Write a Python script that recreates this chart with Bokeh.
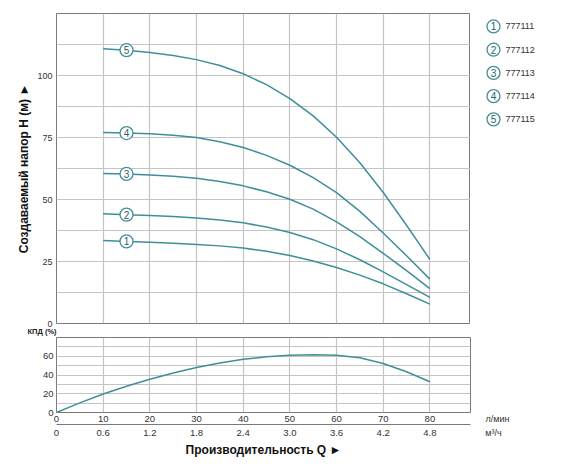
from bokeh.plotting import figure
from bokeh.layouts import column, row
from bokeh.models import Range1d, FixedTicker, LinearAxis, Title
from bokeh.embed import file_html
from bokeh.resources import INLINE
from bokeh.core.properties import value

# ---- data ----
models = ["777111", "777112", "777113", "777114", "777115"]
curve_numbers = ["1", "2", "3", "4", "5"]
flow_lpm = [10, 15, 20, 25, 30, 35, 40, 45, 50, 55, 60, 65, 70, 75, 80]
head_777111 = [33.5, 33.1, 32.8, 32.4, 31.9, 31.3, 30.4, 29.1, 27.4, 25.2, 22.6, 19.5, 16.0, 12.0, 7.8]
head_777112 = [44.3, 43.9, 43.5, 43.1, 42.5, 41.7, 40.6, 38.9, 36.7, 33.8, 30.1, 25.7, 20.8, 15.7, 10.5]
head_777113 = [60.5, 60.3, 59.9, 59.4, 58.6, 57.3, 55.5, 53.1, 50.1, 46.1, 41.0, 35.0, 28.3, 21.3, 14.1]
head_777114 = [77.0, 76.8, 76.5, 75.9, 75.0, 73.3, 71.0, 67.8, 63.8, 58.8, 52.8, 45.2, 36.5, 27.3, 17.9]
head_777115 = [110.8, 110.2, 109.3, 108.1, 106.4, 104.0, 100.7, 96.3, 90.7, 83.7, 75.1, 64.8, 52.8, 39.6, 25.8]
heads = [head_777111, head_777112, head_777113, head_777114, head_777115]
marker_flow = 15

eff_flow = [0, 5, 10, 15, 20, 25, 30, 35, 40, 45, 50, 55, 60, 65, 70, 75, 80]
efficiency = [0, 10.3, 19.8, 28.0, 35.4, 42.1, 48.0, 52.9, 56.7, 59.4, 61.0, 61.7, 61.1, 58.3, 52.3, 43.5, 32.8]

lpm_ticks = [0, 10, 20, 30, 40, 50, 60, 70, 80]
m3h_labels = ["0", "0.6", "1.2", "1.8", "2.4", "3.0", "3.6", "4.2", "4.8"]
unit_lpm = "л/мин"
unit_m3h = "м³/ч"
head_ticks = [0, 25, 50, 75, 100]
head_grid = [12.5, 25, 37.5, 50, 62.5, 75, 87.5, 100, 112.5]
eff_ticks = [0, 20, 40, 60]
eff_grid = [10, 20, 30, 40, 50, 60, 70]

# ---- styles ----
TEAL = "#3f8f99"
NUM = "#2d5f66"
GRID = "#c4c4c4"
FRAME = "#7a7a7a"
TXT = "#333333"
FONT = "Liberation Sans"
XMAX = 88.7

def style_frame(p):
    p.outline_line_color = FRAME
    p.outline_line_width = 1
    p.background_fill_color = "white"
    p.border_fill_color = "white"

def plain_axis(ax, size="9px", standoff=3):
    ax.axis_line_color = None
    ax.major_tick_out = 0
    ax.major_tick_in = 0
    ax.minor_tick_out = 0
    ax.minor_tick_in = 0
    ax.major_label_standoff = standoff
    ax.major_label_text_font = FONT
    ax.major_label_text_font_size = size
    ax.major_label_text_color = TXT

def blank(p):
    p.grid.visible = False
    p.outline_line_color = None
    p.background_fill_color = "white"
    p.border_fill_color = "white"

# ---- top: head curves (page rows 0..336, frame 13..324) ----
p1 = figure(width=470, height=336, x_range=Range1d(0, XMAX), y_range=Range1d(0, 125),
            output_backend="svg", toolbar_location=None, x_axis_location=None,
            min_border_left=56, min_border_right=0, min_border_top=13, min_border_bottom=12)
style_frame(p1)
p1.xgrid.ticker = FixedTicker(ticks=lpm_ticks[1:])
p1.ygrid.ticker = FixedTicker(ticks=head_grid)
for g in (p1.xgrid, p1.ygrid):
    g.grid_line_color = GRID
    g.grid_line_width = 1.2
ya = p1.yaxis[0]
ya.ticker = FixedTicker(ticks=head_ticks)
plain_axis(ya, "9px", 4)
ya.axis_label = "Создаваемый напор H (м) ►"
ya.axis_label_text_font = FONT
ya.axis_label_text_font_style = "bold"
ya.axis_label_text_font_size = "12px"
ya.axis_label_text_color = "#111111"
ya.axis_label_standoff = 3

p1.add_layout(Title(text="КПД (%)", align="left", offset=-29, standoff=2,
                    text_font=FONT, text_font_size="7.5px", text_font_style="bold",
                    text_color="#222222"), "below")

for h in heads:
    p1.line(flow_lpm, h, line_color=TEAL, line_width=1.5, line_join="round")

mi = flow_lpm.index(marker_flow)
mx = [marker_flow] * len(heads)
my = [h[mi] for h in heads]
p1.scatter(mx, my, size=13, marker="circle", fill_color="white", line_color=TEAL, line_width=1.3)
p1.text(mx, my, text=curve_numbers, text_align="center", text_baseline="middle",
        text_font=value(FONT), text_font_size="10px", text_color=NUM)

# ---- legend panel (frame aligned with p1's frame; ranges in page pixels) ----
pleg = figure(width=96, height=336, x_range=Range1d(470, 566), y_range=Range1d(324, 13),
              output_backend="svg", toolbar_location=None, x_axis_location=None,
              y_axis_location=None, min_border=0)
blank(pleg)
ly = [26 + i * 23.3 for i in range(len(models))]
pleg.scatter([493] * len(models), ly, size=13, marker="circle", fill_color="white",
             line_color=TEAL, line_width=1.3)
pleg.text([493] * len(models), ly, text=curve_numbers, text_align="center", text_baseline="middle",
          text_font=value(FONT), text_font_size="10px", text_color=NUM)
pleg.text([505] * len(models), ly, text=models, text_align="left", text_baseline="middle",
          text_font=value(FONT), text_font_size="9px", text_color=TXT)

# ---- bottom: efficiency (page rows 336..464, frame 337..412) ----
p2 = figure(width=471, height=128, x_range=Range1d(0, XMAX), y_range=Range1d(0, 80),
            output_backend="svg", toolbar_location=None,
            min_border_left=56, min_border_right=1, min_border_top=1, min_border_bottom=52)
style_frame(p2)
p2.xgrid.ticker = FixedTicker(ticks=lpm_ticks[1:])
p2.ygrid.ticker = FixedTicker(ticks=eff_grid)
for g in (p2.xgrid, p2.ygrid):
    g.grid_line_color = GRID
    g.grid_line_width = 1.2

ya2 = p2.yaxis[0]
ya2.ticker = FixedTicker(ticks=eff_ticks)
plain_axis(ya2, "9.5px", 3)

xa = p2.xaxis[0]
xa.ticker = FixedTicker(ticks=lpm_ticks)
plain_axis(xa, "9.5px", 3)

xa2 = LinearAxis(ticker=FixedTicker(ticks=lpm_ticks),
                 major_label_overrides={t: s for t, s in zip(lpm_ticks, m3h_labels)})
plain_axis(xa2, "9.5px", 5)
xa2.axis_line_color = FRAME
xa2.axis_label = "Производительность Q ►"
xa2.axis_label_text_font = FONT
xa2.axis_label_text_font_style = "bold"
xa2.axis_label_text_font_size = "12px"
xa2.axis_label_text_color = "#111111"
xa2.axis_label_standoff = 4
p2.add_layout(xa2, "below")

p2.line(eff_flow, efficiency, line_color=TEAL, line_width=1.5, line_join="round")

# ---- units panel: unit names as tick labels on rows aligned with p2's axes ----
punits = figure(width=95, height=128, x_range=Range1d(471, 566), y_range=Range1d(0, 1),
                output_backend="svg", toolbar_location=None, y_axis_location=None,
                min_border=0)
blank(punits)
ua1 = punits.xaxis[0]
ua1.ticker = FixedTicker(ticks=[497])
ua1.major_label_overrides = {497: unit_lpm}
plain_axis(ua1, "9px", 1)
ua2 = LinearAxis(ticker=FixedTicker(ticks=[493]), major_label_overrides={493: unit_m3h})
plain_axis(ua2, "9px", 1)
punits.add_layout(ua2, "below")

layout = column(row(p1, pleg), row(p2, punits))
open("out.html", "w").write(file_html(layout, INLINE))
